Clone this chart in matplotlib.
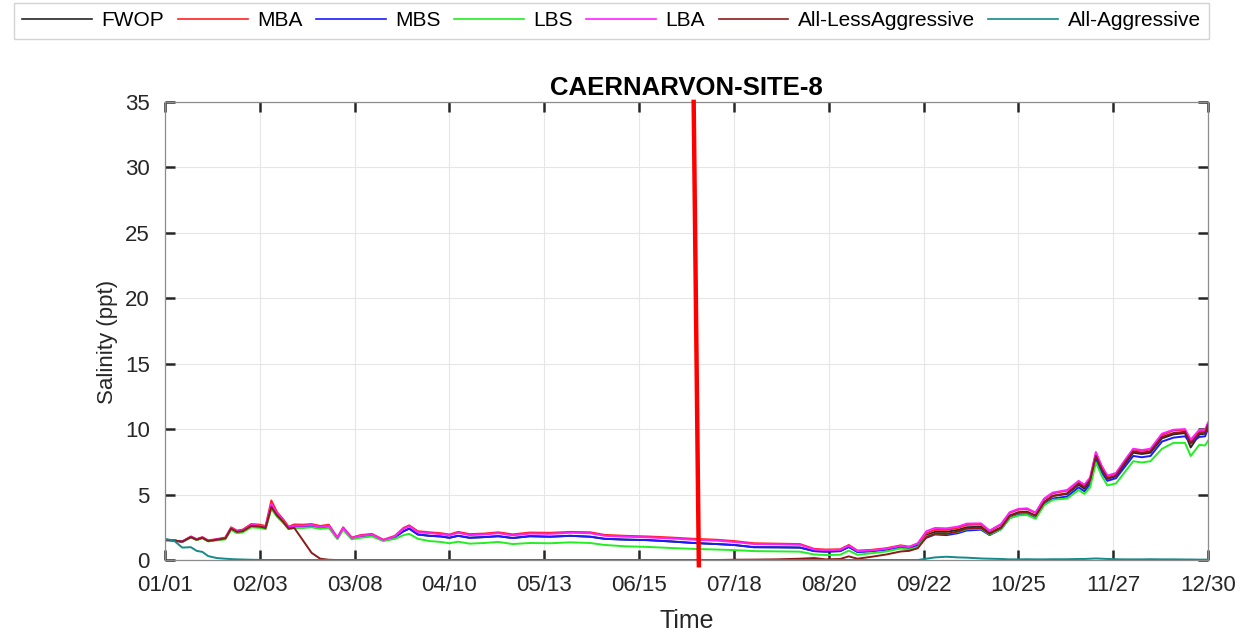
import matplotlib
matplotlib.use('Agg')
import matplotlib.pyplot as plt
import pandas as pd

plt.rcParams['font.family'] = ['Liberation Sans', 'DejaVu Sans']

# Day of year (0 = Jan 1) at which values were read
days = [0, 3, 6, 9, 11, 13, 15, 18, 21, 23, 25, 27, 30, 33, 35, 37, 39, 41, 43, 45,
        48, 51, 54, 57, 60, 62, 65, 68, 72, 76, 80, 83, 85, 88, 92, 96, 99, 102, 106, 111,
        116, 121, 127, 134, 141, 148, 153, 160, 168, 176, 184, 192, 198, 205, 213, 221, 226, 230, 235, 238,
        241, 246, 251, 256, 259, 262, 265, 268, 272, 276, 279, 284, 287, 291, 294, 297, 300, 303, 306, 309,
        314, 318, 320, 322, 324, 326, 328, 331, 334, 337, 340, 343, 347, 351, 355, 357, 360, 362, 363]

fwop = [1.55, 1.50, 1.40, 1.75, 1.55, 1.70, 1.45, 1.55, 1.65, 2.40, 2.15, 2.20, 2.60, 2.55, 2.45, 4.05, 3.40, 2.95, 2.42, 2.55,
        2.55, 2.60, 2.45, 2.55, 1.65, 2.40, 1.65, 1.78, 1.90, 1.50, 1.75, 2.20, 2.40, 1.95, 1.85, 1.80, 1.70, 1.85, 1.70, 1.75,
        1.82, 1.68, 1.82, 1.78, 1.85, 1.78, 1.62, 1.56, 1.52, 1.42, 1.30, 1.22, 1.15, 0.98, 0.97, 0.95, 0.68, 0.64, 0.68, 1.00,
        0.62, 0.68, 0.80, 1.00, 0.92, 1.10, 1.90, 2.15, 2.15, 2.30, 2.50, 2.55, 2.05, 2.50, 3.40, 3.65, 3.70, 3.40, 4.45, 4.90,
        5.05, 5.75, 5.45, 6.00, 7.85, 6.90, 6.20, 6.40, 7.30, 8.20, 8.10, 8.20, 9.30, 9.60, 9.70, 8.60, 9.60, 9.65, 10.20]

mba = [1.50, 1.48, 1.42, 1.80, 1.60, 1.75, 1.50, 1.60, 1.72, 2.50, 2.25, 2.32, 2.75, 2.70, 2.60, 4.55, 3.65, 3.15, 2.55, 2.72,
       2.70, 2.75, 2.60, 2.70, 1.72, 2.50, 1.72, 1.90, 2.00, 1.55, 1.85, 2.45, 2.65, 2.20, 2.12, 2.05, 1.95, 2.15, 1.98, 2.02,
       2.12, 1.96, 2.10, 2.08, 2.15, 2.12, 1.92, 1.85, 1.80, 1.72, 1.62, 1.55, 1.45, 1.28, 1.25, 1.22, 0.85, 0.80, 0.82, 1.15,
       0.72, 0.78, 0.90, 1.12, 1.02, 1.25, 2.05, 2.30, 2.30, 2.45, 2.68, 2.72, 2.20, 2.70, 3.60, 3.85, 3.90, 3.60, 4.65, 5.10,
       5.30, 6.00, 5.70, 6.25, 8.15, 7.15, 6.40, 6.60, 7.55, 8.45, 8.35, 8.45, 9.55, 9.90, 9.95, 9.10, 9.85, 9.85, 10.40]

mbs = [1.55, 1.50, 1.40, 1.75, 1.55, 1.70, 1.45, 1.55, 1.65, 2.40, 2.15, 2.20, 2.60, 2.55, 2.45, 4.05, 3.40, 2.95, 2.42, 2.50,
       2.50, 2.58, 2.45, 2.55, 1.65, 2.40, 1.65, 1.78, 1.90, 1.50, 1.75, 2.20, 2.40, 1.95, 1.85, 1.80, 1.70, 1.85, 1.70, 1.75,
       1.82, 1.68, 1.82, 1.78, 1.85, 1.78, 1.62, 1.56, 1.52, 1.42, 1.30, 1.22, 1.15, 0.98, 0.97, 0.95, 0.68, 0.64, 0.68, 1.00,
       0.62, 0.68, 0.80, 0.98, 0.90, 1.05, 1.70, 1.95, 1.90, 2.05, 2.25, 2.32, 1.90, 2.35, 3.20, 3.45, 3.50, 3.20, 4.25, 4.70,
       4.85, 5.55, 5.25, 5.80, 7.60, 6.70, 6.05, 6.25, 7.10, 7.95, 7.85, 7.95, 9.05, 9.35, 9.45, 8.95, 9.40, 9.45, 10.00]

lbs = [1.55, 1.50, 1.38, 1.72, 1.52, 1.66, 1.42, 1.50, 1.58, 2.30, 2.05, 2.10, 2.50, 2.45, 2.35, 3.90, 3.30, 2.85, 2.35, 2.45,
       2.45, 2.50, 2.38, 2.45, 1.60, 2.30, 1.58, 1.70, 1.80, 1.45, 1.62, 1.90, 2.00, 1.62, 1.45, 1.38, 1.28, 1.40, 1.25, 1.30,
       1.38, 1.22, 1.30, 1.28, 1.35, 1.30, 1.15, 1.05, 1.00, 0.92, 0.85, 0.80, 0.76, 0.68, 0.66, 0.64, 0.42, 0.38, 0.40, 0.72,
       0.40, 0.52, 0.65, 0.88, 0.80, 1.00, 1.80, 2.00, 2.00, 2.15, 2.35, 2.40, 1.95, 2.35, 3.20, 3.40, 3.45, 3.15, 4.20, 4.60,
       4.70, 5.35, 5.05, 5.55, 7.45, 6.45, 5.70, 5.85, 6.70, 7.55, 7.45, 7.55, 8.50, 8.95, 8.95, 7.95, 8.80, 8.75, 9.10]

lba = [1.52, 1.48, 1.40, 1.78, 1.58, 1.72, 1.47, 1.57, 1.68, 2.45, 2.20, 2.25, 2.68, 2.62, 2.52, 4.30, 3.55, 3.05, 2.48, 2.62,
       2.62, 2.68, 2.52, 2.62, 1.68, 2.45, 1.68, 1.85, 1.95, 1.52, 1.80, 2.38, 2.58, 2.12, 2.05, 1.98, 1.88, 2.08, 1.90, 1.95,
       2.05, 1.88, 2.02, 2.00, 2.08, 2.05, 1.85, 1.78, 1.73, 1.65, 1.55, 1.48, 1.38, 1.22, 1.20, 1.16, 0.80, 0.75, 0.78, 1.10,
       0.68, 0.74, 0.86, 1.08, 0.98, 1.28, 2.20, 2.45, 2.42, 2.55, 2.78, 2.80, 2.25, 2.75, 3.65, 3.90, 3.95, 3.62, 4.70, 5.15,
       5.35, 6.05, 5.75, 6.30, 8.25, 7.20, 6.45, 6.65, 7.60, 8.50, 8.40, 8.50, 9.65, 9.95, 10.00, 9.20, 9.95, 9.95, 10.50]

all_less = [1.55, 1.50, 1.40, 1.75, 1.55, 1.70, 1.45, 1.55, 1.65, 2.40, 2.15, 2.20, 2.60, 2.55, 2.45, 4.05, 3.40, 2.95, 2.40, 2.45,
            1.50, 0.55, 0.10, 0.02, 0.00, 0.00, 0.00, 0.00, 0.00, 0.00, 0.00, 0.00, 0.00, 0.00, 0.00, 0.00, 0.00, 0.00, 0.00, 0.00,
            0.00, 0.00, 0.00, 0.00, 0.00, 0.00, 0.00, 0.00, 0.00, 0.00, 0.00, 0.00, 0.02, 0.03, 0.05, 0.10, 0.15, 0.05, 0.08, 0.28,
            0.10, 0.25, 0.42, 0.65, 0.70, 0.90, 1.75, 2.00, 2.00, 2.18, 2.40, 2.45, 2.00, 2.45, 3.35, 3.60, 3.65, 3.38, 4.40, 4.90,
            5.10, 5.85, 5.55, 6.10, 7.95, 6.95, 6.25, 6.45, 7.40, 8.30, 8.20, 8.30, 9.40, 9.70, 9.80, 8.90, 9.70, 9.70, 10.30]

all_aggr = [1.60, 1.50, 0.95, 0.98, 0.70, 0.62, 0.30, 0.15, 0.10, 0.07, 0.05, 0.04, 0.02, 0.01, 0.00, 0.00, 0.00, 0.00, 0.00, 0.00,
            0.00, 0.00, 0.00, 0.00, 0.00, 0.00, 0.00, 0.00, 0.00, 0.00, 0.00, 0.00, 0.00, 0.00, 0.00, 0.00, 0.00, 0.00, 0.00, 0.00,
            0.00, 0.00, 0.00, 0.00, 0.00, 0.00, 0.00, 0.00, 0.00, 0.00, 0.00, 0.00, 0.00, 0.00, 0.00, 0.00, 0.00, 0.00, 0.00, 0.00,
            0.00, 0.00, 0.00, 0.00, 0.00, 0.00, 0.10, 0.20, 0.25, 0.20, 0.18, 0.12, 0.10, 0.08, 0.05, 0.05, 0.06, 0.05, 0.05, 0.06,
            0.06, 0.08, 0.08, 0.10, 0.12, 0.10, 0.08, 0.06, 0.05, 0.05, 0.05, 0.06, 0.05, 0.05, 0.04, 0.04, 0.03, 0.03, 0.03]

series_names = ['FWOP', 'MBA', 'MBS', 'LBS', 'LBA', 'All-LessAggressive', 'All-Aggressive']
series_colors = ['#262626', '#ff2020', '#1a1aff', '#22ee22', '#ff20ff', '#8b1a1a', '#158a8a']
series_values = [fwop, mba, mbs, lbs, lba, all_less, all_aggr]

xtick_labels = ['01/01', '02/03', '03/08', '04/10', '05/13', '06/15',
                '07/18', '08/20', '09/22', '10/25', '11/27', '12/30']
yticks = [0, 5, 10, 15, 20, 25, 30, 35]

# slanted red marker line (day, salinity) at its two ends
marker_day = [184, 185.8]
marker_sal = [35, -0.4]

xtick_pos = [pd.Timestamp('2021/' + lab).dayofyear - 1 for lab in xtick_labels]

fig = plt.figure(figsize=(12.55, 6.31), dpi=100)
ax = fig.add_axes([0.1315, 0.1125, 0.831, 0.726])

for name, vals, col in zip(series_names, series_values, series_colors):
    ax.plot(days, vals, color=col, lw=1.4, label=name)

ax.plot(marker_day, marker_sal, color='#ff0000', lw=3.2, clip_on=False, zorder=5)

ax.set_xlim(xtick_pos[0], xtick_pos[-1])
ax.set_ylim(0, 35)
ax.set_xticks(xtick_pos)
ax.set_xticklabels(xtick_labels)
ax.set_yticks(yticks)

ax.grid(True, color='#e6e6e6', lw=0.8)
ax.set_axisbelow(True)
for sp in ax.spines.values():
    sp.set_color('#8c8c8c')
    sp.set_linewidth(0.9)
ax.tick_params(direction='in', length=7, width=1.8, color='#262626',
               labelsize=16, top=True, right=True, labelcolor='#262626', pad=11)

ax.set_xlabel('Time', fontsize=18, color='#262626', labelpad=9)
ax.set_ylabel('Salinity (ppt)', fontsize=16, color='#262626')
ax.yaxis.set_label_coords(-0.045, 0.475)
ax.set_title('CAERNARVON-SITE-8', fontsize=18.5, fontweight='bold', pad=5)

leg = fig.legend(loc='upper center', bbox_to_anchor=(0.4873, 0.995), ncol=7, fontsize=15,
                 frameon=True, fancybox=False, edgecolor='#c8c8c8', handlelength=3.35,
                 handletextpad=0.45, columnspacing=0.65, borderpad=0.4, borderaxespad=0)
for line in leg.get_lines():
    line.set_linewidth(1.2)

fig.savefig('out.png', dpi=100)
